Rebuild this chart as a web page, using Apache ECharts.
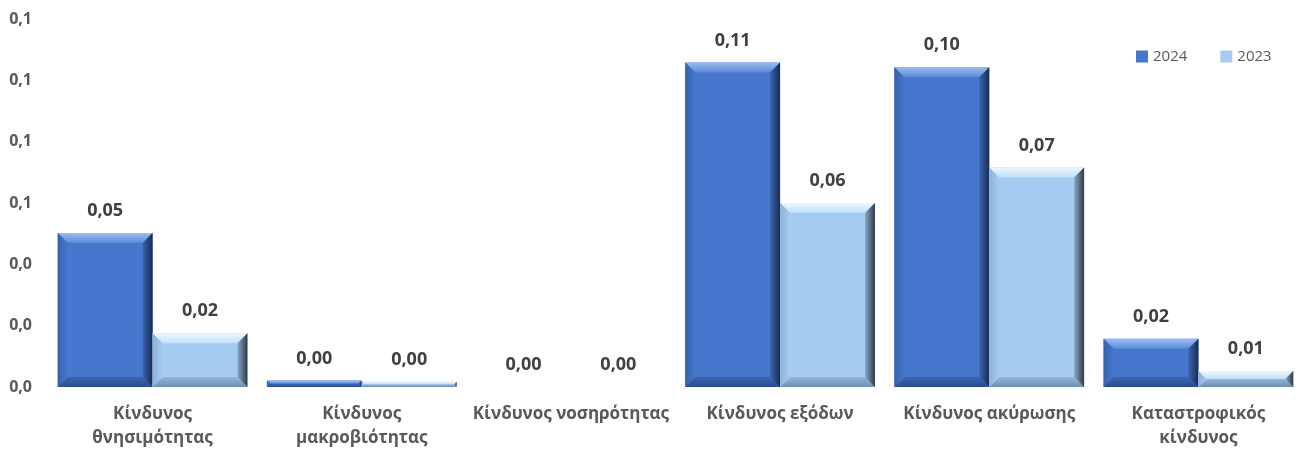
<!DOCTYPE html>
<html>
<head>
<meta charset="utf-8">
<script src="https://cdn.jsdelivr.net/npm/echarts@6/dist/echarts.min.js"></script>
<style>
  html, body { margin: 0; padding: 0; background: #fff; }
  #chart { width: 1303px; height: 453px; }
</style>
</head>
<body>
<div id="chart"></div>
<script>
// Risk categories (x axis)
const categories = [
  'Κίνδυνος\nθνησιμότητας',
  'Κίνδυνος\nμακροβιότητας',
  'Κίνδυνος νοσηρότητας',
  'Κίνδυνος εξόδων',
  'Κίνδυνος ακύρωσης',
  'Καταστροφικός\nκίνδυνος'
];
// Values per year
const values2024 = [0.0502, 0.0021, 0, 0.1058, 0.1043, 0.0157];
const values2023 = [0.0175, 0.0017, 0, 0.0600, 0.0716, 0.0052];
const seriesNames = ['2024', '2023'];

// Bevelled bar palettes: face, top, bottom, left, right edges
const palettes = [
  { face: '#4677cd', topA: '#9dbdf0', topB: '#5a89db', botA: '#2a4c8c', botB: '#3b66b3',
    leftA: '#3561ae', leftB: '#4677cd', rightA: '#172c52', rightB: '#3a64b0' },
  { face: '#a7ccf1', topA: '#eef8ff', topB: '#bfe0fa', botA: '#6f8fb0', botB: '#93b6d9',
    leftA: '#8db2d8', leftB: '#a7ccf1', rightA: '#2d3a4a', rightB: '#8aa9c7' }
];

const fmt = v => v.toFixed(2).replace('.', ',');

function grad(x0, y0, x1, y1, a, b) {
  return new echarts.graphic.LinearGradient(x0, y0, x1, y1, [
    { offset: 0, color: a }, { offset: 1, color: b }
  ]);
}

function makeRender(idx) {
  const p = palettes[idx];
  return function (params, api) {
    const cat = api.value(0);
    const val = api.value(1);
    const base = api.coord([cat, 0]);
    const top = api.coord([cat, val]);
    const band = api.size([1, 0])[0];
    const w = band * 0.4535;
    const x0 = idx === 0 ? base[0] - w : base[0];
    const x1 = x0 + w;
    const y0 = top[1];
    const y1 = base[1];
    const h = y1 - y0;
    const children = [];
    if (h > 0.5) {
      const b = Math.min(10, h / 2, w / 2);
      children.push({ type: 'rect', shape: { x: x0, y: y0, width: w, height: h },
        style: { fill: p.face } });
      children.push({ type: 'polygon',
        shape: { points: [[x0, y0], [x1, y0], [x1 - b, y0 + b], [x0 + b, y0 + b]] },
        style: { fill: grad(0, 0, 0, 1, p.topA, p.topB) } });
      children.push({ type: 'polygon',
        shape: { points: [[x0, y1], [x1, y1], [x1 - b, y1 - b], [x0 + b, y1 - b]] },
        style: { fill: grad(0, 1, 0, 0, p.botA, p.botB) } });
      children.push({ type: 'polygon',
        shape: { points: [[x0, y0], [x0 + b, y0 + b], [x0 + b, y1 - b], [x0, y1]] },
        style: { fill: grad(0, 0, 1, 0, p.leftA, p.leftB) } });
      children.push({ type: 'polygon',
        shape: { points: [[x1, y0], [x1 - b, y0 + b], [x1 - b, y1 - b], [x1, y1]] },
        style: { fill: grad(1, 0, 0, 0, p.rightA, p.rightB) } });
    }
    children.push({ type: 'text',
      style: { x: (x0 + x1) / 2, y: y0 - 13, text: fmt(val), align: 'center',
        verticalAlign: 'bottom', fill: '#404040',
        font: 'bold 18px "Open Sans", sans-serif' } });
    return { type: 'group', children: children };
  };
}

const chart = echarts.init(document.getElementById('chart'));
chart.setOption({
  animation: false,
  legend: {
    data: seriesNames.map((n, i) => ({ name: n, itemStyle: { color: palettes[i].face } })),
    left: 1131, top: 44,
    itemWidth: 12, itemHeight: 12, itemGap: 33, icon: 'rect',
    textStyle: { color: '#595959', fontSize: 15, fontFamily: '"Open Sans", sans-serif' }
  },
  grid: { left: 48, width: 1258, top: 19, bottom: 66 },
  xAxis: {
    type: 'category', data: categories,
    axisLine: { show: false }, axisTick: { show: false },
    axisLabel: { interval: 0, color: '#595959', fontWeight: 'bold', fontSize: 17,
      lineHeight: 24, margin: 15, fontFamily: '"Open Sans", sans-serif' }
  },
  yAxis: {
    type: 'value', min: 0, max: 0.12, interval: 0.02,
    splitLine: { show: false }, axisLine: { show: false }, axisTick: { show: false },
    axisLabel: { color: '#595959', fontWeight: 'bold', fontSize: 16, margin: 16,
      fontFamily: '"Open Sans", sans-serif',
      formatter: v => v.toFixed(1).replace('.', ',') }
  },
  series: [values2024, values2023].map((vals, i) => ({
    name: seriesNames[i], type: 'custom',
    itemStyle: { color: palettes[i].face },
    renderItem: makeRender(i),
    encode: { x: 0, y: 1 },
    data: vals.map((v, k) => [k, v])
  }))
});
</script>
</body>
</html>
